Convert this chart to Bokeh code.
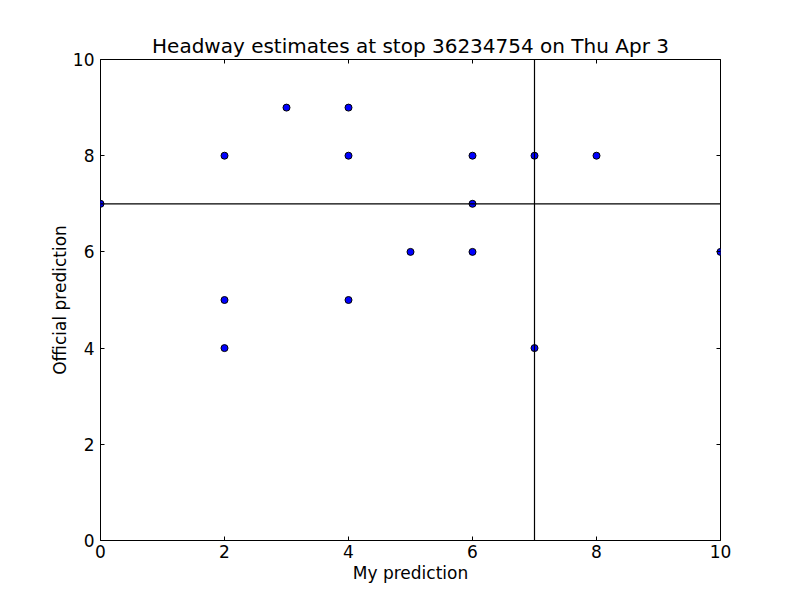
from bokeh.plotting import figure
from bokeh.models import Span, LinearAxis, FixedTicker, Range1d
from bokeh.embed import file_html
from bokeh.resources import INLINE

my_pred = [0, 2, 2, 2, 3, 4, 4, 4, 5, 6, 6, 6, 7, 7, 8, 10]
official_pred = [7, 8, 5, 4, 9, 9, 8, 5, 6, 8, 7, 6, 8, 4, 8, 6]
my_threshold = 7
official_threshold = 7
ticks = [0, 2, 4, 6, 8, 10]

FONT = "DejaVu Sans"

p = figure(width=790, height=590, output_backend="svg", toolbar_location=None,
           x_range=Range1d(0, 10), y_range=Range1d(0, 10),
           min_border_left=100, min_border_right=70, min_border_top=59, min_border_bottom=50,
           frame_width=620, frame_height=481,
           title="Headway estimates at stop 36234754 on Thu Apr 3")
p.title.align = "center"
p.title.text_font = FONT
p.title.text_font_size = "20px"
p.title.text_font_style = "normal"
p.title.text_color = "black"
p.title.standoff = 3

p.xgrid.visible = False
p.ygrid.visible = False
p.outline_line_color = "black"
p.outline_line_width = 1
p.outline_line_alpha = 1
p.background_fill_color = "white"
p.border_fill_color = "white"

def style_axis(ax, labels=True):
    ax.ticker = FixedTicker(ticks=ticks)
    ax.major_tick_in = 4
    ax.major_tick_out = 0
    ax.minor_tick_in = 0
    ax.minor_tick_out = 0
    ax.axis_line_color = None
    ax.major_tick_line_color = "black"
    ax.major_label_text_font = FONT
    ax.major_label_text_font_size = "17px"
    ax.major_label_text_color = "black"
    ax.axis_label_text_font = FONT
    ax.axis_label_text_font_size = "17px"
    ax.axis_label_text_font_style = "normal"
    ax.axis_label_text_color = "black"
    if not labels:
        ax.major_label_text_font_size = "0px"
        ax.major_label_text_alpha = 0

style_axis(p.xaxis[0])
style_axis(p.yaxis[0])
p.xaxis.axis_label = "My prediction"
p.yaxis.axis_label = "Official prediction"
p.xaxis.major_label_standoff = 4
p.yaxis.major_label_standoff = 6
p.xaxis.axis_label_standoff = 2
p.yaxis.axis_label_standoff = 0

top = LinearAxis()
style_axis(top, labels=False)
p.add_layout(top, "above")
right = LinearAxis()
style_axis(right, labels=False)
p.add_layout(right, "right")

p.scatter(my_pred, official_pred, size=7, fill_color="#0000ff", line_color="black", line_width=1)

p.add_layout(Span(location=my_threshold, dimension="height", line_color="black", line_width=1.2))
p.add_layout(Span(location=official_threshold, dimension="width", line_color="black", line_width=1.2))

open("out.html", "w").write(file_html(p, INLINE))
